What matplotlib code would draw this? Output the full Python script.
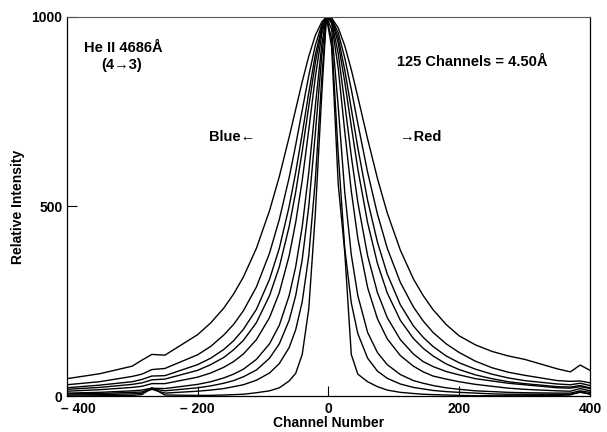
"""He II 4686 line profiles, relative intensity vs channel number."""

import matplotlib.pyplot as plt
import matplotlib.transforms as mtransforms

# channel grid shared by all profiles
channels = [-400, -350, -300, -285, -270, -250, -200, -180, -160, -145, -130, -110,
            -90, -75, -60, -50, -40, -30, -20, -10, -3, 5, 15, 25, 35, 45, 60, 75,
            90, 110, 130, 145, 160, 180, 200, 225, 250, 275, 300, 350, 370, 385, 400]

# profiles, widest first
profile_a = [46, 59, 79, 95, 110, 108, 162, 193, 232, 269, 314, 390, 489, 579, 683, 756, 829, 896, 951, 987,
             1000,
             997, 971, 924, 861, 789, 678, 574, 483, 385, 309, 265, 228, 189, 159, 135, 118, 106, 97, 72, 64, 82, 68]
profile_b = [30, 38, 52, 58, 70, 73, 109, 131, 161, 189, 225, 288, 377, 466, 576, 662, 754, 845, 925, 980,
             1000,
             995, 958, 892, 809, 719, 590, 480, 390, 300, 235, 198, 168, 138, 115, 92, 75, 63, 55, 41, 39, 40, 35]
profile_c = [22, 29, 38, 44, 53, 54, 83, 100, 123, 146, 176, 229, 308, 390, 500, 590, 692, 800, 900, 973,
             1000,
             994, 945, 860, 758, 655, 516, 406, 322, 241, 185, 155, 131, 106, 88, 71, 58, 48, 41, 32, 30, 34, 28]
profile_d = [18, 23, 31, 35, 43, 45, 68, 83, 102, 122, 147, 194, 265, 341, 447, 538, 646, 764, 879, 967,
             1000,
             992, 931, 829, 712, 599, 457, 350, 272, 200, 152, 126, 106, 85, 70, 56, 46, 38, 33, 25, 24, 28, 22]
profile_e = [13, 17, 23, 26, 33, 33, 50, 61, 76, 91, 111, 149, 207, 273, 370, 458, 569, 702, 841, 955,
             1000,
             988, 904, 772, 633, 511, 370, 273, 207, 149, 111, 91, 78, 65, 56, 46, 40, 34, 30, 22, 21, 25, 20]
profile_f = [8, 10, 14, 16, 21, 20, 31, 38, 48, 58, 71, 97, 138, 187, 265, 341, 447, 590, 764, 928,
             1000,
             983, 865, 698, 541, 416, 286, 204, 151, 107, 79, 64, 53, 45, 38, 31, 26, 21, 18, 14, 13, 20, 14]
profile_g = [6, 7, 10, 11, 20, 14, 22, 27, 34, 41, 51, 69, 100, 138, 200, 265, 360, 500, 692, 900,
             1000,
             967, 764, 538, 373, 265, 168, 115, 83, 57, 41, 34, 28, 22, 18, 14, 12, 10, 9, 8, 8, 14, 10]
profile_h = [3, 4, 6, 8, 18, 8, 13, 16, 20, 25, 30, 42, 61, 86, 128, 175, 249, 370, 569, 841,
             1000,
             941, 640, 390, 246, 165, 100, 66, 47, 32, 23, 19, 15, 12, 10, 8, 6, 5, 5, 5, 5, 10, 6]
profile_i = [0, 1, 2, 4, 22, 3, 2, 2, 3, 4, 5, 9, 14, 22, 40, 60, 110, 230, 480, 800,
             1000,
             920, 560, 380, 110, 58, 38, 25, 16, 10, 7, 5, 4, 3, 2, 1, 1, 1, 1, 2, 3, 12, 5]

profiles = [profile_a, profile_b, profile_c, profile_d, profile_e,
            profile_f, profile_g, profile_h, profile_i]

x_ticks = [-400, -200, 0, 200, 400]
x_tick_labels = ["\u2013 400", "\u2013 200", "0", "200", "400"]
y_ticks = [0, 500, 1000]
y_tick_labels = ["0", "500", "1000"]

plt.rcParams["font.family"] = ["Liberation Sans", "DejaVu Sans"]
plt.rcParams["font.weight"] = "bold"

fig = plt.figure(figsize=(6.07, 4.32), dpi=100)
ax = fig.add_axes([0.110, 0.083, 0.862, 0.878])

for prof in profiles:
    ax.plot(channels, prof, color="black", linewidth=1.0)

ax.set_xlim(-400, 400)
ax.set_ylim(0, 1000)

ax.set_xticks(x_ticks)
ax.set_xticklabels(x_tick_labels, fontsize=10, fontweight="bold")
ax.set_yticks(y_ticks)
ax.set_yticklabels(y_tick_labels, fontsize=10, fontweight="bold")
ax.tick_params(direction="in", length=7, width=0.8)
ax.tick_params(axis="x", pad=4)
ax.tick_params(axis="y", pad=3)

# the first x label sits a little right of its tick, clear of the "0"
first = ax.get_xticklabels()[0]
first.set_transform(first.get_transform() + mtransforms.ScaledTranslation(8 / 72, 0, fig.dpi_scale_trans))

ax.set_xlabel("Channel Number", fontsize=10, fontweight="bold", labelpad=0)
ax.set_ylabel("Relative Intensity", fontsize=10, fontweight="bold", labelpad=5)

for side in ["left", "bottom", "right"]:
    ax.spines[side].set_linewidth(0.9)
ax.spines["top"].set_linewidth(0.8)
ax.spines["top"].set_color("#555555")
ax.spines["top"].set_linestyle((0, (6, 1)))

ax.text(-313, 918, "He II 4686Å", ha="center", va="center", fontsize=10.5, fontweight="bold")
ax.text(-316, 873, "(4\u21923)", ha="center", va="center", fontsize=10.5, fontweight="bold")
ax.text(105, 881, "125 Channels = 4.50Å", ha="left", va="center", fontsize=10.5, fontweight="bold")
ax.text(-182, 683, "Blue\u2190", ha="left", va="center", fontsize=10.5, fontweight="bold")
ax.text(108, 683, "\u2192Red", ha="left", va="center", fontsize=10.5, fontweight="bold")

plt.savefig("out.png", dpi=100)
plt.close()
